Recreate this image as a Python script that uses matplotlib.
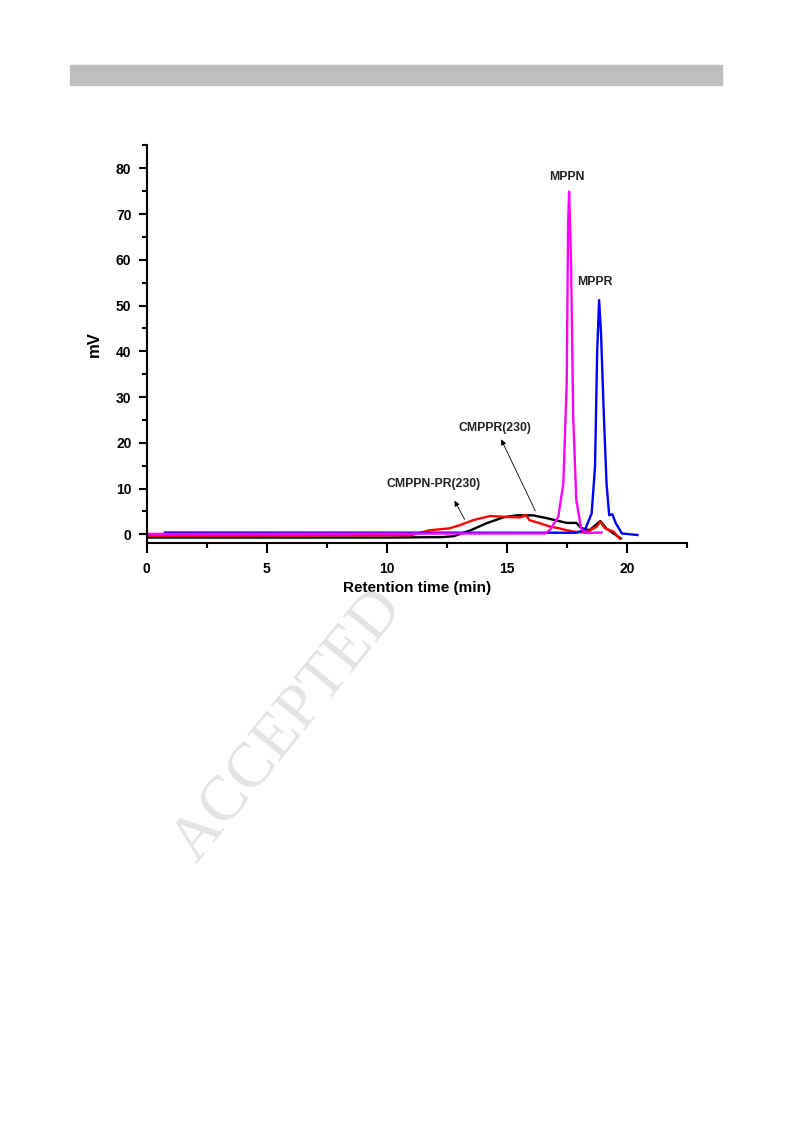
import numpy as np
import matplotlib
matplotlib.use('Agg')
import matplotlib.pyplot as plt
from matplotlib.ticker import MultipleLocator

plt.rcParams['font.family'] = ['Liberation Sans', 'DejaVu Sans']

# black: CMPPR(230)
t_black = [0.0, 10.1, 12.3, 12.8, 13.5, 14.15, 14.85, 15.4, 16.1, 16.7, 17.1, 17.5,
           17.9, 18.1, 18.45, 18.9, 19.15, 19.45, 19.75]
y_black = [-0.7, -0.7, -0.6, -0.4, 0.9, 2.4, 3.7, 4.15, 4.15, 3.5, 3.0, 2.5,
           2.5, 1.4, 0.9, 2.9, 1.3, 0.2, -0.9]

# red: CMPPN-PR(230)
t_red = [0.0, 11.0, 11.8, 12.6, 13.05, 13.6, 14.3, 14.85, 15.55, 15.8, 15.95, 16.4,
         16.8, 17.2, 17.5, 17.8, 18.3, 18.75, 18.9, 19.1, 19.45, 19.7]
y_red = [-0.3, -0.2, 0.9, 1.3, 2.0, 3.1, 4.0, 3.85, 3.7, 4.2, 3.1, 2.4,
         1.7, 1.3, 0.9, 0.6, 0.35, 1.7, 2.75, 1.3, 0.6, -0.9]

# magenta: MPPN
t_mppn = [0.0, 16.6, 16.8, 17.15, 17.36, 17.5, 17.56, 17.6, 17.64, 17.68, 17.77,
          17.9, 18.1, 18.3, 18.95]
y_mppn = [0.1, 0.2, 0.95, 3.85, 11.1, 33.0, 68.0, 74.9, 68.0, 60.0, 25.7,
          7.5, 1.3, 0.3, 0.4]

# blue: MPPR
t_mppr = [0.76, 17.9, 18.26, 18.54, 18.68, 18.77, 18.85, 18.93, 19.05, 19.16,
          19.27, 19.4, 19.55, 19.8, 20.45]
y_mppr = [0.4, 0.35, 0.95, 4.6, 14.8, 40.0, 51.2, 43.9, 25.7, 11.1,
          4.2, 4.4, 2.4, 0.2, -0.15]

fig = plt.figure(figsize=(7.93, 11.23), dpi=100)

# grey header band
fig.patches.append(plt.Rectangle((70 / 793, 1 - 85 / 1123), 652 / 793, 20 / 1123,
                                 transform=fig.transFigure, color='#bebebe', zorder=0))

# watermark
fig.text(288 / 793, 1 - 726 / 1123, 'ACCEPTED', rotation=51, fontsize=46,
         family='Liberation Serif', color='#e4e4e4', ha='center', va='center', zorder=0)

ax = fig.add_axes([146.7 / 793, 1 - 543.5 / 1123, 540 / 793, 398.5 / 1123])
ax.patch.set_alpha(0)

ax.plot(t_black, y_black, color='black', lw=1.7)
ax.plot(t_red, y_red, color='red', lw=1.7)
ax.plot(t_mppr, y_mppr, color='blue', lw=1.7)
ax.plot(t_mppn, y_mppn, color='magenta', lw=1.7)

ax.set_xlim(0, 22.5)
ax.set_ylim(-2, 85.1)
ax.xaxis.set_major_locator(MultipleLocator(5))
ax.xaxis.set_minor_locator(MultipleLocator(2.5))
ax.yaxis.set_major_locator(MultipleLocator(10))
ax.yaxis.set_minor_locator(MultipleLocator(5))
ax.spines['top'].set_visible(False)
ax.spines['right'].set_visible(False)
for s in ['left', 'bottom']:
    ax.spines[s].set_linewidth(1.5)
ax.tick_params(axis='x', which='major', direction='out', length=7, width=1.5, labelsize=10, pad=6)
ax.tick_params(axis='y', which='major', direction='out', length=6, width=1.5, labelsize=10, pad=5)
ax.tick_params(which='minor', direction='out', length=3.5, width=1.5)
for lab in ax.get_xticklabels() + ax.get_yticklabels():
    lab.set_fontweight('bold')

ax.set_xlabel('Retention time (min)', fontsize=11, fontweight='bold', labelpad=4)
ax.set_ylabel('mV', fontsize=12, fontweight='bold', labelpad=10)

ax.text(17.5, 78.1, 'MPPN', fontsize=8.8, fontweight='bold', ha='center', va='center', color='#222222')
ax.text(18.67, 55.1, 'MPPR', fontsize=8.8, fontweight='bold', ha='center', va='center', color='#222222')
ax.annotate('', xy=(14.72, 21.3), xytext=(16.24, 4.6),
            arrowprops=dict(arrowstyle='-|>', color='black', lw=0.6, mutation_scale=8))
ax.text(14.53, 23.2, 'CMPPR(230)', fontsize=8.8, fontweight='bold', ha='center', va='center', color='#222222')
ax.annotate('', xy=(12.77, 7.9), xytext=(13.3, 2.75),
            arrowprops=dict(arrowstyle='-|>', color='black', lw=0.6, mutation_scale=8))
ax.text(11.95, 11.0, 'CMPPN-PR(230)', fontsize=8.8, fontweight='bold', ha='center', va='center', color='#222222')

fig.savefig('out.png', dpi=100)
